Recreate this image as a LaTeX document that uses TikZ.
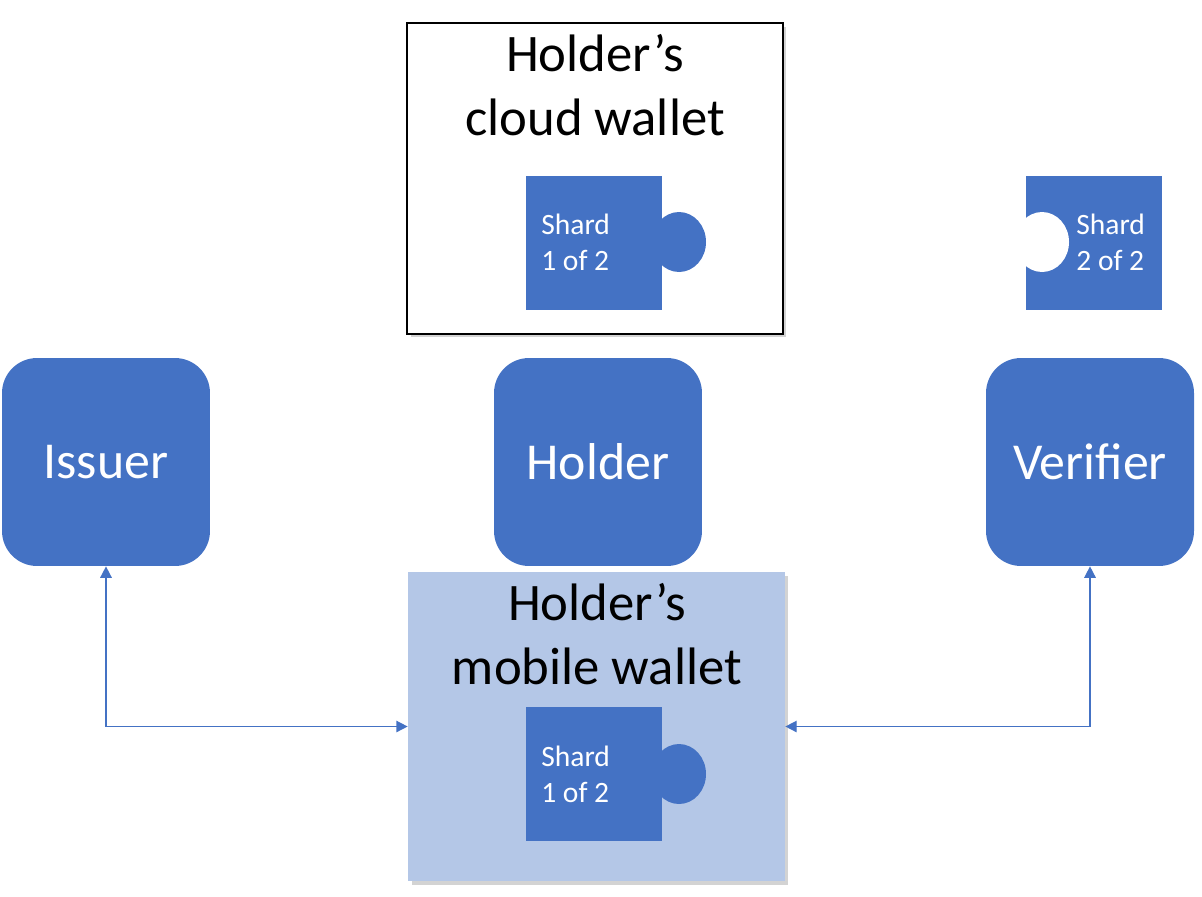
\documentclass[tikz,border=0pt]{standalone}
\usepackage{fontspec}
\setmainfont{Carlito}
\usepackage{tikz}
\usetikzlibrary{arrows.meta,shadows}
\definecolor{shardblue}{HTML}{4472C4}
\definecolor{walletblue}{HTML}{B4C7E7}
\tikzset{
	party/.style={fill=shardblue, rounded corners=0.7cm, minimum width=4.16cm, minimum height=4.16cm, text=white, font=\fontsize{29.5}{35}\selectfont},
	shard/.style={fill=shardblue, minimum width=2.72cm, minimum height=2.68cm, inner sep=0pt},
	shardtext/.style={anchor=west, align=left, text=white, inner sep=0pt, font=\fontsize{16.8}{20.5}\selectfont},
	wallettitle/.style={align=center, font=\fontsize{30}{36}\selectfont},
	link/.style={draw=shardblue, line width=0.85pt, {Triangle[length=6.5pt,width=6.5pt]}-{Triangle[length=6.5pt,width=6.5pt]}}
}

\begin{document}
\begin{tikzpicture}[x=0.02cm, y=-0.02cm]
			%%%%% START %%%%%
			\useasboundingbox (0, 0) rectangle (1202, 896);
			
			% cloud wallet
			\node[draw=black, line width=0.8pt, fill=white, minimum width=7.52cm, minimum height=6.22cm, drop shadow={shadow xshift=2pt, shadow yshift=-2pt, opacity=0.35}] (cloud) at (595, 178.5) {};
			\node[wallettitle] (cloudtitle) at (595, 85) {Holder’s\\cloud wallet};
			\fill[shardblue] (679, 242) ellipse (0.54cm and 0.6cm);
			\node[shard] (cloudshard) at (594, 243) {};
			\node[shardtext] (cloudshardtext) at (541, 242) {Shard\\1 of 2};
			
			% verifier shard
			\node[shard] (vershard) at (1094, 243) {};
			\fill[white] (1042, 242) ellipse (0.54cm and 0.6cm);
			\node[shardtext] (vershardtext) at (1076, 242) {Shard\\2 of 2};
			
			% parties
			\node[party] (issuer) at (106, 462) {Issuer};
			\node[party] (holder) at (598, 462) {Holder};
			\node[party] (verifier) at (1090, 462) {Verifier};
			
			% mobile wallet
			\node[fill=walletblue, minimum width=7.54cm, minimum height=6.18cm, drop shadow={shadow xshift=2pt, shadow yshift=-2pt, opacity=0.35}] (mobile) at (596.5, 726.5) {};
			\node[wallettitle] (mobiletitle) at (597, 634) {Holder’s\\mobile wallet};
			\fill[shardblue] (679, 774) ellipse (0.54cm and 0.6cm);
			\node[shard] (mobileshard) at (594, 774) {};
			\node[shardtext] (mobileshardtext) at (541, 774) {Shard\\1 of 2};
			
			\draw[link] (issuer.south) |- (mobile.west);
			\draw[link] (verifier.south) |- (mobile.east);
			%%%%% END %%%%%
\end{tikzpicture}
\end{document}
